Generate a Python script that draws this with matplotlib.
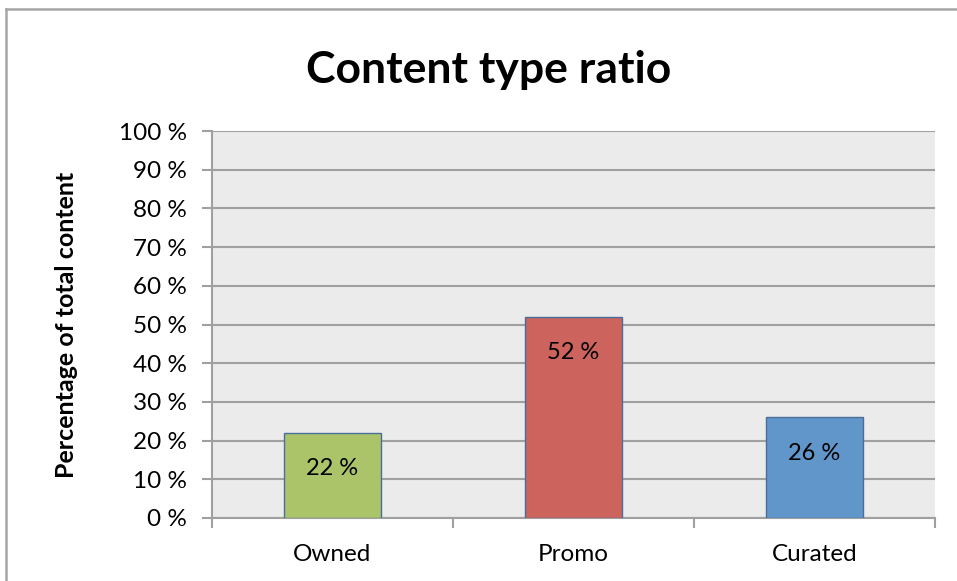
import matplotlib
matplotlib.use("Agg")
import matplotlib.pyplot as plt
from matplotlib.lines import Line2D
from matplotlib.ticker import MultipleLocator, FuncFormatter
import numpy as np

categories = ["Owned", "Promo", "Curated"]
shares = [22, 52, 26]
bar_colors = ["#abc46a", "#cc635c", "#6196ca"]

plt.rcParams["font.family"] = ["Lato", "DejaVu Sans"]

W, H = 957, 581
fig = plt.figure(figsize=(W / 100, H / 100), dpi=100)
fig.patch.set_facecolor("white")

# outer chart frame (left and top edges only visible)
fig.add_artist(Line2D([6 / W, 6 / W], [0, 1 - 9 / H], transform=fig.transFigure,
                      color="#a6a6a6", lw=1.8))
fig.add_artist(Line2D([6 / W, 1], [1 - 9 / H, 1 - 9 / H], transform=fig.transFigure,
                      color="#a6a6a6", lw=1.8))

left, right, top, bottom = 212, 935, 131, 518
ax = fig.add_axes([left / W, 1 - bottom / H, (right - left) / W, (bottom - top) / H])
ax.set_facecolor("#ebebeb")

x = np.arange(len(categories))
bars = ax.bar(x, shares, width=0.4, color=bar_colors, edgecolor="#4a6e9c",
              linewidth=1.0, zorder=3)

for b, v in zip(bars, shares):
    ax.annotate(f"{v} %", (b.get_x() + b.get_width() / 2, v), xytext=(0, -26),
                textcoords="offset points", ha="center", va="center",
                fontsize=17, color="black", zorder=4)

ax.set_xlim(-0.5, len(categories) - 0.5)
ax.set_ylim(0, 100)
ax.yaxis.set_major_locator(MultipleLocator(10))
ax.yaxis.set_major_formatter(FuncFormatter(lambda v, p: f"{int(v)} %"))
ax.grid(axis="y", color="#a0a0a0", lw=1.5, zorder=1)
ax.set_axisbelow(True)

ax.set_xticks(x)
ax.set_xticklabels(categories)
ax.set_xticks(np.arange(-0.5, len(categories)), minor=True)
ax.tick_params(axis="x", which="major", length=0, pad=19, labelsize=17.5)
ax.tick_params(axis="x", which="minor", length=7, width=1.5, color="#a0a0a0")
ax.tick_params(axis="y", length=7, width=1.5, color="#a0a0a0", pad=11, labelsize=17.5)

for side in ["top", "right"]:
    ax.spines[side].set_visible(False)
for side in ["left", "bottom"]:
    ax.spines[side].set_color("#a0a0a0")
    ax.spines[side].set_linewidth(1.5)

fig.text(67 / W, 1 - 325 / H, "Percentage of total content", rotation=90,
         ha="center", va="center", fontsize=18, fontweight="bold")
fig.text(489 / W, 1 - 83 / H, "Content type ratio", ha="center", va="baseline",
         fontsize=32, fontweight="bold")

fig.savefig("out.png", dpi=100)
